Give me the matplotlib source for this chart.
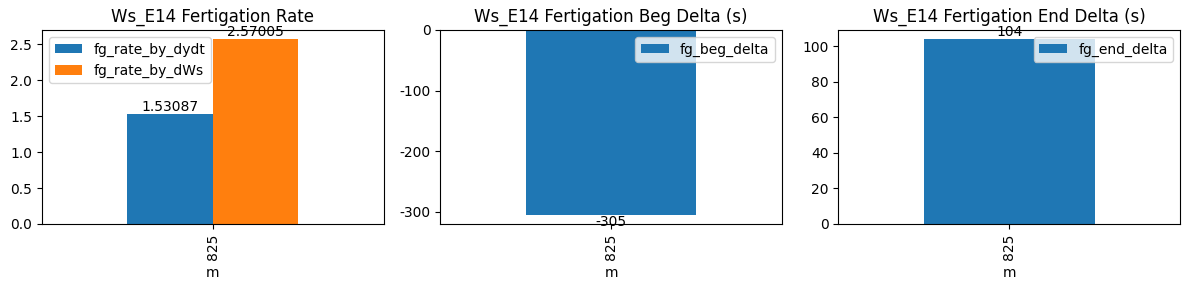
import pandas as pd
import matplotlib
matplotlib.use('Agg')
import matplotlib.pyplot as plt

plt.rcParams['axes.unicode_minus'] = False

m = [825]
fg_rate_by_dydt = [1.53087]
fg_rate_by_dWs = [2.57005]
fg_beg_delta = [-305]
fg_end_delta = [104]

df = pd.DataFrame({'fg_rate_by_dydt': fg_rate_by_dydt,
                   'fg_rate_by_dWs': fg_rate_by_dWs,
                   'fg_beg_delta': fg_beg_delta,
                   'fg_end_delta': fg_end_delta},
                  index=pd.Index(m, name='m'))

fig, axes = plt.subplots(1, 3, figsize=(11.9, 2.9), dpi=100)

ax = df[['fg_rate_by_dydt', 'fg_rate_by_dWs']].plot.bar(ax=axes[0], title='Ws_E14 Fertigation Rate')
for c in ax.containers:
    ax.bar_label(c)
ax.legend(loc='upper left')

ax = df[['fg_beg_delta']].plot.bar(ax=axes[1], title='Ws_E14 Fertigation Beg Delta (s)')
for c in ax.containers:
    ax.bar_label(c)

ax = df[['fg_end_delta']].plot.bar(ax=axes[2], title='Ws_E14 Fertigation End Delta (s)')
for c in ax.containers:
    ax.bar_label(c)

plt.subplots_adjust(left=0.0353, right=0.9916, top=0.8966, bottom=0.2276, wspace=0.165)
plt.savefig('out.png')
